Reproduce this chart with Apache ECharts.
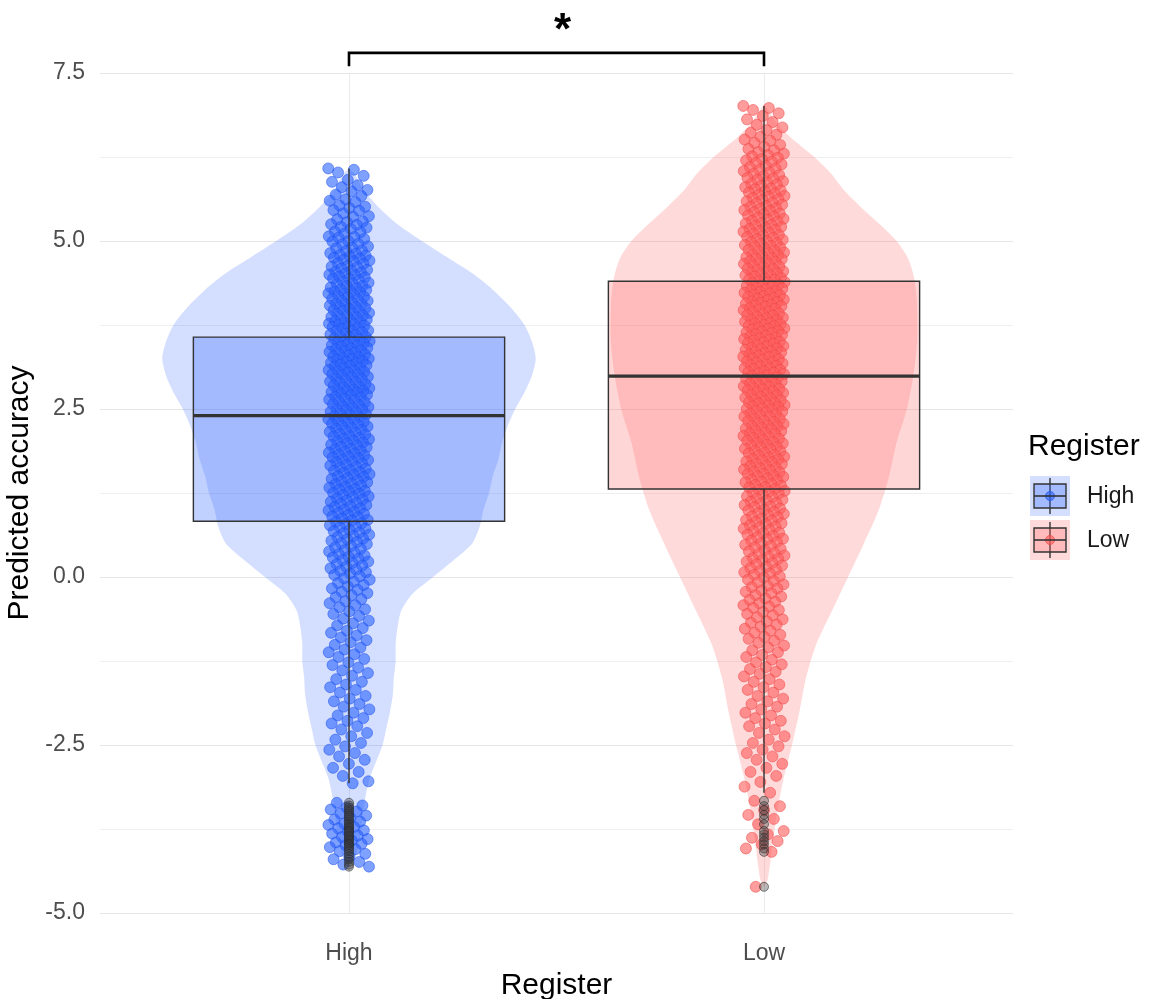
<!DOCTYPE html>
<html>
<head>
<meta charset="utf-8">
<script src="https://cdn.jsdelivr.net/npm/echarts@6/dist/echarts.min.js"></script>
<style>
  html, body { margin: 0; padding: 0; background: #ffffff; }
  #chart { width: 1169px; height: 999px; }
</style>
</head>
<body>
<div id="chart"></div>
<script>
// ---- data ----------------------------------------------------------------
const categories = ['High', 'Low'];
const yTickLabels = [-5, -2.5, 0, 2.5, 5, 7.5];

// Five-number boxplot summaries: lower whisker, Q1, median, Q3, upper whisker
const boxHigh = [-3.07, 0.83, 2.40, 3.57, 6.08];
const boxLow  = [-3.21, 1.31, 2.99, 4.40, 7.01];

// Violin outlines: value levels and relative density (half-width) at each level
const violinHighY = [6.08, 6.0, 5.75, 5.5, 5.25, 5.0, 4.75, 4.5, 4.25, 4.0, 3.75, 3.5, 3.25, 3.0, 2.75, 2.5, 2.25, 2.0, 1.75, 1.5, 1.25, 1.0, 0.75, 0.5, 0.25, 0.0, -0.25, -0.5, -0.75, -1.0, -1.25, -1.5, -1.75, -2.0, -2.25, -2.5, -2.75, -3.0, -3.25, -3.5, -3.75, -4.0, -4.2, -4.31];
const violinHighD = [0, 0.03, 0.08, 0.16, 0.26, 0.39, 0.53, 0.67, 0.78, 0.87, 0.94, 0.98, 1.0, 0.98, 0.94, 0.89, 0.85, 0.82, 0.80, 0.77, 0.75, 0.72, 0.70, 0.66, 0.56, 0.45, 0.34, 0.28, 0.26, 0.25, 0.25, 0.24, 0.235, 0.22, 0.20, 0.18, 0.145, 0.11, 0.09, 0.075, 0.065, 0.05, 0.03, 0];
const violinLowY = [7.03, 6.75, 6.5, 6.25, 6.0, 5.75, 5.5, 5.25, 5.0, 4.75, 4.5, 4.25, 4.0, 3.5, 3.0, 2.5, 2.0, 1.5, 1.0, 0.5, 0.0, -0.5, -1.0, -1.5, -2.0, -2.5, -3.0, -3.5, -4.0, -4.5, -4.61];
const violinLowD = [0, 0.07, 0.16, 0.27, 0.36, 0.43, 0.52, 0.62, 0.71, 0.77, 0.80, 0.815, 0.82, 0.82, 0.80, 0.765, 0.71, 0.67, 0.615, 0.535, 0.45, 0.365, 0.28, 0.225, 0.19, 0.15, 0.105, 0.07, 0.045, 0.02, 0];

// Individual predicted accuracies
const pointsHigh = [
  6.08, 6.06, 6.02,
  5.97, 5.91, 5.88, 5.83, 5.80, 5.76,
  5.74, 5.69, 5.67, 5.62, 5.60, 5.58, 5.53, 5.51,
  5.49, 5.46, 5.45, 5.41, 5.37, 5.36, 5.32, 5.29, 5.28, 5.25,
  5.24, 5.21, 5.20, 5.18, 5.14, 5.13, 5.11, 5.07, 5.06, 5.05, 5.03, 5.00,
  4.99, 4.96, 4.95, 4.92, 4.90, 4.89, 4.86, 4.85, 4.82, 4.81, 4.79, 4.78, 4.77, 4.75,
  4.74, 4.72, 4.71, 4.70, 4.67, 4.66, 4.63, 4.62, 4.61, 4.59, 4.57, 4.56, 4.54, 4.53, 4.52, 4.50,
  4.49, 4.47, 4.46, 4.44, 4.44, 4.42, 4.40, 4.38, 4.37, 4.36, 4.33, 4.33, 4.31, 4.30, 4.28, 4.27, 4.26, 4.25,
  4.24, 4.22, 4.22, 4.20, 4.18, 4.17, 4.16, 4.14, 4.13, 4.11, 4.11, 4.09, 4.07, 4.06, 4.05, 4.04, 4.02, 4.01, 4.00,
  3.99, 3.97, 3.96, 3.96, 3.93, 3.92, 3.91, 3.89, 3.88, 3.87, 3.86, 3.84, 3.83, 3.82, 3.81, 3.79, 3.78, 3.77, 3.76, 3.75,
  3.74, 3.72, 3.72, 3.70, 3.69, 3.67, 3.66, 3.66, 3.64, 3.62, 3.61, 3.60, 3.58, 3.57, 3.57, 3.55, 3.54, 3.52, 3.51, 3.50,
  3.49, 3.48, 3.46, 3.45, 3.44, 3.43, 3.41, 3.40, 3.39, 3.37, 3.36, 3.35, 3.34, 3.32, 3.31, 3.30, 3.28, 3.27, 3.26, 3.25,
  3.24, 3.23, 3.21, 3.20, 3.19, 3.18, 3.16, 3.15, 3.14, 3.13, 3.11, 3.10, 3.08, 3.07, 3.06, 3.05, 3.04, 3.02, 3.01, 3.00,
  2.98, 2.97, 2.95, 2.94, 2.93, 2.91, 2.90, 2.89, 2.87, 2.86, 2.85, 2.83, 2.82, 2.81, 2.79, 2.78, 2.77, 2.76, 2.75,
  2.74, 2.72, 2.71, 2.70, 2.68, 2.67, 2.65, 2.64, 2.63, 2.61, 2.60, 2.58, 2.57, 2.56, 2.54, 2.53, 2.52, 2.50,
  2.49, 2.48, 2.46, 2.45, 2.43, 2.42, 2.41, 2.39, 2.38, 2.36, 2.35, 2.34, 2.32, 2.31, 2.29, 2.28, 2.27, 2.25,
  2.24, 2.22, 2.21, 2.19, 2.18, 2.16, 2.15, 2.13, 2.12, 2.10, 2.09, 2.07, 2.06, 2.05, 2.03, 2.02, 2.00,
  1.99, 1.97, 1.96, 1.94, 1.93, 1.91, 1.90, 1.88, 1.87, 1.85, 1.84, 1.82, 1.81, 1.79, 1.78, 1.77, 1.75,
  1.74, 1.72, 1.71, 1.69, 1.67, 1.66, 1.64, 1.63, 1.61, 1.59, 1.58, 1.56, 1.55, 1.53, 1.52, 1.50,
  1.49, 1.47, 1.46, 1.44, 1.42, 1.41, 1.39, 1.38, 1.36, 1.34, 1.33, 1.31, 1.30, 1.28, 1.27, 1.25,
  1.24, 1.22, 1.20, 1.19, 1.17, 1.15, 1.14, 1.12, 1.10, 1.09, 1.07, 1.05, 1.04, 1.02, 1.00,
  0.99, 0.97, 0.95, 0.94, 0.92, 0.90, 0.89, 0.87, 0.85, 0.84, 0.82, 0.80, 0.79, 0.77, 0.75,
  0.74, 0.72, 0.70, 0.68, 0.66, 0.65, 0.63, 0.61, 0.59, 0.57, 0.56, 0.54, 0.52, 0.50,
  0.49, 0.46, 0.44, 0.42, 0.40, 0.38, 0.36, 0.34, 0.32, 0.30, 0.29, 0.27, 0.25,
  0.23, 0.21, 0.19, 0.17, 0.15, 0.13, 0.11, 0.09, 0.07, 0.05, 0.03, 0.01,
  -0.02, -0.04, -0.07, -0.09, -0.12, -0.14, -0.17, -0.19, -0.22, -0.24,
  -0.27, -0.30, -0.33, -0.36, -0.39, -0.42, -0.45, -0.48,
  -0.51, -0.55, -0.58, -0.62, -0.65, -0.69, -0.72,
  -0.76, -0.80, -0.83, -0.87, -0.90, -0.94, -0.97,
  -1.01, -1.05, -1.08, -1.12, -1.15, -1.19, -1.22,
  -1.27, -1.31, -1.35, -1.39, -1.43, -1.47,
  -1.52, -1.56, -1.60, -1.64, -1.68, -1.72,
  -1.77, -1.81, -1.85, -1.89, -1.93, -1.97,
  -2.02, -2.06, -2.10, -2.14, -2.18, -2.22,
  -2.27, -2.32, -2.37, -2.42, -2.47,
  -2.52, -2.57, -2.62, -2.67, -2.72,
  -2.78, -2.84, -2.90, -2.96,
  -3.04, -3.07,
  -3.36, -3.40, -3.43, -3.46, -3.49,
  -3.52, -3.55, -3.58, -3.61, -3.64, -3.67, -3.69, -3.72, -3.74,
  -3.77, -3.79, -3.82, -3.85, -3.87, -3.90, -3.92, -3.95, -3.97, -3.99,
  -4.02, -4.05, -4.08, -4.12, -4.16, -4.20, -4.24,
  -4.28, -4.31
];

const pointsLow = [
  7.01, 6.98, 6.95, 6.90, 6.86, 6.81, 6.77,
  6.73, 6.69, 6.65, 6.61, 6.58, 6.55, 6.51,
  6.49, 6.46, 6.43, 6.40, 6.37, 6.35, 6.32, 6.30, 6.28, 6.26,
  6.24, 6.22, 6.20, 6.18, 6.16, 6.14, 6.12, 6.10, 6.08, 6.06, 6.04, 6.02, 6.00,
  5.98, 5.96, 5.94, 5.93, 5.91, 5.89, 5.87, 5.85, 5.84, 5.82, 5.80, 5.78, 5.77, 5.75,
  5.74, 5.72, 5.71, 5.69, 5.67, 5.66, 5.64, 5.62, 5.61, 5.59, 5.57, 5.56, 5.54, 5.52, 5.51,
  5.49, 5.48, 5.46, 5.45, 5.43, 5.41, 5.40, 5.38, 5.37, 5.35, 5.33, 5.32, 5.30, 5.29, 5.27, 5.26,
  5.24, 5.23, 5.21, 5.20, 5.18, 5.17, 5.15, 5.14, 5.12, 5.11, 5.09, 5.08, 5.06, 5.05, 5.03, 5.02, 5.00,
  4.99, 4.97, 4.96, 4.94, 4.93, 4.92, 4.90, 4.89, 4.87, 4.86, 4.85, 4.83, 4.82, 4.80, 4.79, 4.78, 4.76, 4.75,
  4.74, 4.73, 4.71, 4.70, 4.69, 4.67, 4.66, 4.65, 4.63, 4.62, 4.61, 4.59, 4.58, 4.57, 4.55, 4.54, 4.53, 4.52, 4.50,
  4.49, 4.48, 4.47, 4.45, 4.44, 4.43, 4.42, 4.40, 4.39, 4.38, 4.37, 4.35, 4.34, 4.33, 4.32, 4.30, 4.29, 4.28, 4.27, 4.25,
  4.24, 4.23, 4.22, 4.20, 4.19, 4.18, 4.17, 4.15, 4.14, 4.13, 4.12, 4.10, 4.09, 4.08, 4.07, 4.05, 4.04, 4.03, 4.02, 4.00,
  3.99, 3.98, 3.97, 3.95, 3.94, 3.92, 3.91, 3.90, 3.89, 3.87, 3.86, 3.85, 3.83, 3.82, 3.81, 3.80, 3.78, 3.77, 3.76, 3.75,
  3.74, 3.73, 3.71, 3.70, 3.69, 3.68, 3.66, 3.65, 3.64, 3.63, 3.61, 3.60, 3.59, 3.58, 3.56, 3.55, 3.54, 3.53, 3.52, 3.50,
  3.49, 3.48, 3.47, 3.45, 3.44, 3.43, 3.41, 3.40, 3.39, 3.38, 3.36, 3.35, 3.34, 3.33, 3.31, 3.30, 3.29, 3.28, 3.27, 3.25,
  3.24, 3.23, 3.21, 3.20, 3.19, 3.18, 3.16, 3.15, 3.14, 3.13, 3.11, 3.10, 3.09, 3.08, 3.06, 3.05, 3.04, 3.03, 3.02, 3.00,
  2.99, 2.97, 2.96, 2.95, 2.93, 2.92, 2.91, 2.89, 2.88, 2.87, 2.85, 2.84, 2.83, 2.81, 2.80, 2.79, 2.78, 2.76, 2.75,
  2.74, 2.72, 2.71, 2.70, 2.68, 2.67, 2.66, 2.64, 2.63, 2.62, 2.60, 2.59, 2.58, 2.56, 2.55, 2.54, 2.53, 2.51, 2.50,
  2.49, 2.47, 2.46, 2.45, 2.43, 2.42, 2.40, 2.39, 2.38, 2.36, 2.35, 2.33, 2.32, 2.31, 2.29, 2.28, 2.26, 2.25,
  2.24, 2.22, 2.21, 2.20, 2.18, 2.17, 2.15, 2.14, 2.13, 2.11, 2.10, 2.08, 2.07, 2.06, 2.04, 2.03, 2.01, 2.00,
  1.99, 1.97, 1.96, 1.94, 1.93, 1.91, 1.90, 1.88, 1.87, 1.85, 1.84, 1.82, 1.81, 1.79, 1.78, 1.76, 1.75,
  1.74, 1.72, 1.71, 1.69, 1.68, 1.66, 1.65, 1.63, 1.62, 1.60, 1.59, 1.57, 1.56, 1.54, 1.53, 1.51, 1.50,
  1.49, 1.47, 1.45, 1.44, 1.42, 1.41, 1.39, 1.37, 1.36, 1.34, 1.33, 1.31, 1.30, 1.28, 1.27, 1.25,
  1.24, 1.22, 1.20, 1.19, 1.17, 1.15, 1.14, 1.12, 1.10, 1.09, 1.07, 1.05, 1.04, 1.02, 1.00,
  0.99, 0.97, 0.95, 0.94, 0.92, 0.90, 0.89, 0.87, 0.85, 0.84, 0.82, 0.80, 0.79, 0.77, 0.75,
  0.74, 0.72, 0.70, 0.68, 0.66, 0.65, 0.63, 0.61, 0.59, 0.57, 0.56, 0.54, 0.52, 0.50,
  0.48, 0.46, 0.44, 0.42, 0.40, 0.38, 0.36, 0.34, 0.32, 0.30, 0.28, 0.27, 0.25,
  0.23, 0.21, 0.19, 0.17, 0.15, 0.13, 0.11, 0.09, 0.07, 0.05, 0.03, 0.01,
  -0.01, -0.04, -0.06, -0.08, -0.11, -0.13, -0.15, -0.17, -0.20, -0.22, -0.24,
  -0.27, -0.29, -0.32, -0.34, -0.37, -0.39, -0.42, -0.44, -0.46, -0.49,
  -0.52, -0.55, -0.57, -0.60, -0.63, -0.66, -0.68, -0.71, -0.74,
  -0.77, -0.80, -0.83, -0.86, -0.89, -0.92, -0.95, -0.98,
  -1.02, -1.05, -1.09, -1.12, -1.16, -1.19, -1.23,
  -1.27, -1.30, -1.34, -1.37, -1.41, -1.44, -1.48,
  -1.52, -1.56, -1.60, -1.64, -1.68, -1.72,
  -1.77, -1.81, -1.85, -1.89, -1.93, -1.97,
  -2.02, -2.06, -2.10, -2.14, -2.18, -2.22,
  -2.27, -2.32, -2.37, -2.42, -2.47,
  -2.52, -2.57, -2.62, -2.67, -2.72,
  -2.78, -2.84, -2.90, -2.96,
  -3.05, -3.12, -3.21,
  -3.33, -3.41, -3.47,
  -3.54, -3.60, -3.68,
  -3.78, -3.83, -3.88, -3.93, -3.98,
  -4.04, -4.09,
  -4.61
];

// Significance annotation between the two groups
const sigLabel = '*';
const sigLevel = 7.8;
const sigTip = 0.2;

// ---- styling ---------------------------------------------------------------
const FONT = "'Liberation Sans', Arial, sans-serif";
const palette = {
  High: { point: '41,98,255', edge: '30,80,235', violin: 'rgba(51,102,255,0.21)', box: 'rgba(51,102,255,0.30)' },
  Low:  { point: '255,90,90', edge: '235,70,70', violin: 'rgba(255,102,102,0.24)', box: 'rgba(255,102,102,0.27)' }
};
const VIOLIN_SCALE = 0.45;   // half-width of the densest violin, in category units
const BOX_HALF = 0.375;      // boxplot half-width
const JITTER = 0.05;         // horizontal jitter half-width
const LINE = '#333333';
const TITLE_SIZE = 30;
const TEXT_SIZE = 23;

const groups = [
  { name: 'High', box: boxHigh, vy: violinHighY, vd: violinHighD, pts: pointsHigh },
  { name: 'Low',  box: boxLow,  vy: violinLowY,  vd: violinLowD,  pts: pointsLow }
];

// deterministic low-discrepancy horizontal spread for the jittered points
function jitter(i) {
  const f = (i * 0.6180339887498949) % 1;
  return (f * 2 - 1) * JITTER;
}

const series = [];
groups.forEach((g, gi) => {
  const cx = gi + 1;
  const col = palette[g.name];

  // violin
  series.push({
    type: 'custom', name: g.name + ' violin', silent: true, z: 1, clip: false,
    data: [[cx, g.box[2]]],
    renderItem: (params, api) => {
      const right = [], left = [];
      for (let i = 0; i < g.vy.length; i++) {
        right.push(api.coord([cx + g.vd[i] * VIOLIN_SCALE, g.vy[i]]));
        left.push(api.coord([cx - g.vd[i] * VIOLIN_SCALE, g.vy[i]]));
      }
      return {
        type: 'polygon',
        shape: { points: right.concat(left.reverse()), smooth: 0.25 },
        style: { fill: col.violin, stroke: null }
      };
    }
  });

  // box fill
  series.push({
    type: 'custom', name: g.name + ' box', silent: true, z: 2,
    data: [[cx, g.box[2]]],
    renderItem: (params, api) => {
      const p1 = api.coord([cx - BOX_HALF, g.box[3]]);
      const p2 = api.coord([cx + BOX_HALF, g.box[1]]);
      return {
        type: 'rect',
        shape: { x: p1[0], y: p1[1], width: p2[0] - p1[0], height: p2[1] - p1[1] },
        style: { fill: col.box }
      };
    }
  });

  // jittered points
  series.push({
    type: 'scatter', name: g.name, z: 3, silent: true,
    symbol: 'circle', symbolSize: 11,
    itemStyle: {
      color: 'rgba(' + col.point + ',0.75)',
      borderColor: 'rgba(' + col.edge + ',0.8)',
      borderWidth: 0.8
    },
    data: g.pts.map((v, i) => [cx + jitter(i), v])
  });

  // outliers beyond the whiskers
  series.push({
    type: 'scatter', name: g.name + ' outliers', z: 4, silent: true,
    symbol: 'circle', symbolSize: 9,
    itemStyle: { color: 'rgba(60,60,60,0.45)', borderColor: 'rgba(40,40,40,0.7)', borderWidth: 1 },
    data: g.pts.filter(v => v < g.box[0] || v > g.box[4]).map(v => [cx, v])
  });

  // box outline, median and whiskers
  series.push({
    type: 'custom', name: g.name + ' box lines', silent: true, z: 5,
    data: [[cx, g.box[2]]],
    renderItem: (params, api) => {
      const p1 = api.coord([cx - BOX_HALF, g.box[3]]);
      const p2 = api.coord([cx + BOX_HALF, g.box[1]]);
      const med = api.coord([cx, g.box[2]]);
      const top = api.coord([cx, g.box[4]]);
      const bot = api.coord([cx, g.box[0]]);
      return {
        type: 'group',
        children: [
          { type: 'line', shape: { x1: top[0], y1: top[1], x2: top[0], y2: p1[1] }, style: { stroke: LINE, lineWidth: 1.4 } },
          { type: 'line', shape: { x1: bot[0], y1: p2[1], x2: bot[0], y2: bot[1] }, style: { stroke: LINE, lineWidth: 1.4 } },
          { type: 'rect', shape: { x: p1[0], y: p1[1], width: p2[0] - p1[0], height: p2[1] - p1[1] },
            style: { fill: null, stroke: LINE, lineWidth: 1.4 } },
          { type: 'line', shape: { x1: p1[0], y1: med[1], x2: p2[0], y2: med[1] }, style: { stroke: LINE, lineWidth: 3.2 } }
        ]
      };
    }
  });
});

// significance bracket
series.push({
  type: 'custom', name: 'significance', silent: true, z: 6, clip: false,
  data: [[1.5, sigLevel]],
  renderItem: (params, api) => {
    const a = api.coord([1, sigLevel - sigTip]);
    const b = api.coord([1, sigLevel]);
    const c = api.coord([2, sigLevel]);
    const d = api.coord([2, sigLevel - sigTip]);
    const m = api.coord([1.5, sigLevel]);
    return {
      type: 'group',
      children: [
        { type: 'polyline', shape: { points: [a, b, c, d] }, style: { stroke: '#000', lineWidth: 2.6, fill: null } },
        { type: 'text', x: m[0] + 6, y: m[1] + 1,
          style: { text: sigLabel, font: 'bold 44px ' + FONT, fill: '#000', align: 'center', verticalAlign: 'bottom' } }
      ]
    };
  }
});

// legend drawn as keys with violin background, box glyph and point
const legendItems = [];
legendItems.push({
  type: 'text', x: 1028, y: 447,
  style: { text: 'Register', font: TITLE_SIZE + 'px ' + FONT, fill: '#000', verticalAlign: 'middle' }
});
categories.forEach((name, i) => {
  const col = palette[name];
  const cx = 1050, cy = 496 + i * 44;
  legendItems.push(
    { type: 'rect', shape: { x: cx - 20, y: cy - 20, width: 40, height: 40 }, style: { fill: col.violin } },
    { type: 'line', shape: { x1: cx, y1: cy - 18, x2: cx, y2: cy + 18 }, style: { stroke: LINE, lineWidth: 1.4 } },
    { type: 'rect', shape: { x: cx - 16, y: cy - 12, width: 32, height: 24 }, style: { fill: col.box, stroke: LINE, lineWidth: 1.4 } },
    { type: 'circle', shape: { cx: cx, cy: cy, r: 4.5 }, style: { fill: 'rgba(' + col.point + ',0.6)', stroke: 'rgba(' + col.edge + ',0.7)', lineWidth: 1 } },
    { type: 'line', shape: { x1: cx - 16, y1: cy, x2: cx + 16, y2: cy }, style: { stroke: LINE, lineWidth: 1.6 } },
    { type: 'text', x: 1087, y: cy + 1, style: { text: name, font: TEXT_SIZE + 'px ' + FONT, fill: '#1a1a1a', verticalAlign: 'middle' } }
  );
});

const chart = echarts.init(document.getElementById('chart'), null, { renderer: 'canvas' });
chart.setOption({
  animation: false,
  backgroundColor: '#ffffff',
  grid: { left: 100, right: 156, top: 73, bottom: 86, containLabel: false, outerBoundsMode: 'none' },
  xAxis: {
    type: 'value', min: 0.4, max: 2.6,
    name: 'Register', nameLocation: 'middle', nameGap: 58,
    nameTextStyle: { fontFamily: FONT, fontSize: TITLE_SIZE, color: '#000' },
    axisLine: { show: false },
    axisTick: { show: false, customValues: [1, 2] },
    axisLabel: {
      customValues: [1, 2], margin: 29,
      fontFamily: FONT, fontSize: TEXT_SIZE, color: '#4d4d4d',
      formatter: v => categories[Math.round(v) - 1]
    },
    splitLine: { show: true, lineStyle: { color: '#ebebeb', width: 1 } }
  },
  yAxis: {
    type: 'value', min: -5, max: 7.5, interval: 1.25,
    name: 'Predicted accuracy', nameLocation: 'middle', nameGap: 60,
    nameTextStyle: { fontFamily: FONT, fontSize: TITLE_SIZE, color: '#000' },
    axisLine: { show: false },
    axisTick: { show: false },
    axisLabel: {
      margin: 15, fontFamily: FONT, fontSize: TEXT_SIZE, color: '#4d4d4d',
      formatter: v => yTickLabels.some(t => Math.abs(t - v) < 1e-6) ? v.toFixed(1) : ''
    },
    splitLine: { show: true, lineStyle: { color: ['#e6e6e6', '#efefef'], width: 1 } }
  },
  graphic: legendItems,
  series: series
});
</script>
</body>
</html>
